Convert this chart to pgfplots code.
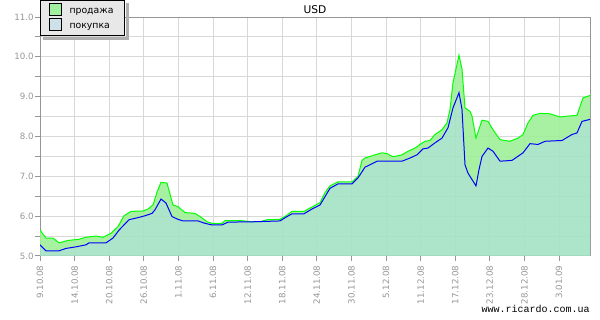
\documentclass[border=0pt]{standalone}
\usepackage{fontspec}
\setmainfont{DejaVu Sans}
\setmonofont{Liberation Mono}
\usepackage{pgfplots}
\pgfplotsset{compat=1.18}
\usepgfplotslibrary{fillbetween}
\definecolor{sellline}{RGB}{0,255,0}
\definecolor{buyline}{RGB}{0,0,255}
\definecolor{sellfill}{RGB}{160,240,152}
\definecolor{buyfill}{RGB}{164,226,196}
\definecolor{legsell}{RGB}{160,240,160}
\definecolor{legbuy}{RGB}{206,224,232}
\definecolor{gridc}{RGB}{216,216,216}
\definecolor{tickc}{RGB}{150,150,150}
\definecolor{legbg}{RGB}{232,232,232}
\definecolor{shadowc}{RGB}{176,176,176}
\begin{document}
\begin{tikzpicture}
\begin{axis}[
  at={(30pt,48pt)}, anchor=south west,
  scale only axis, width=412.5pt, height=179.25pt,
  xmin=40, xmax=590, ymin=5, ymax=11,
  xtick={40,74.6,109.2,143.8,178.4,213,247.6,282.2,316.8,351.4,386,420.6,455.2,489.8,524.4,559},
  xticklabels={9.10.08,14.10.08,20.10.08,26.10.08,1.11.08,6.11.08,12.11.08,18.11.08,24.11.08,30.11.08,5.12.08,11.12.08,17.12.08,23.12.08,28.12.08,3.01.09},
  ytick={5,6,7,8,9,10,11},
  minor ytick={5.5,6.5,7.5,8.5,9.5,10.5},
  yticklabel={\pgfmathprintnumber[fixed,fixed zerofill,precision=1]{\tick}},
  /pgf/number format/assume math mode=true,
  grid=both,
  major grid style={gridc, line width=0.75pt},
  minor grid style={gridc, line width=0.75pt},
  axis line style={tickc, line width=0.75pt},
  tick style={tickc, line width=0.75pt},
  tick align=outside, tick pos=left,
  major tick length=3.5pt, minor tick length=3.5pt,
  ticklabel style={font=\fontsize{6.5}{7}\selectfont, text=tickc},
  xticklabel style={rotate=90, anchor=east, inner sep=1pt},
  xticklabel shift=2.5pt,
  yticklabel style={inner sep=1pt},
  title={USD},
  title style={at={(axis description cs:0.5,1)}, anchor=base, yshift=-3.5pt, font=\fontsize{8}{9}\selectfont},
  legend style={name=leg, at={(axis description cs:0,1.0711)}, anchor=north west,
    fill=legbg, draw=black, line width=0.75pt,
    font=\fontsize{7}{9.5}\selectfont, inner xsep=6.5pt, inner ysep=2pt,
    row sep=0.5pt,
    /tikz/every odd column/.append style={column sep=3.5pt}},
  legend cell align=left,
]
\addlegendimage{legend image code/.code={\draw[fill=legsell,draw=black,line width=0.75pt] (0pt,-3.2pt) rectangle (9pt,5.8pt);}}
\addlegendentry{продажа}
\addlegendimage{legend image code/.code={\draw[fill=legbuy,draw=black,line width=0.75pt] (0pt,-3.2pt) rectangle (9pt,5.8pt);}}
\addlegendentry{покупка}

\addplot[draw=none, name path=base, forget plot] coordinates {(40,5) (590,5)};

\addplot[sellline, line width=0.75pt, name path=sell, forget plot] coordinates {
(40,5.65) (46,5.45) (53,5.45) (59,5.33) (68,5.39) (79,5.42) (86,5.47) (96,5.50)
(103,5.47) (111,5.57) (118,5.74) (124,6.01) (131,6.12) (143,6.13) (148,6.18) (153,6.28)
(157,6.60) (161,6.85) (167,6.83) (173,6.28) (178,6.24) (185,6.09) (195,6.07) (200,5.99)
(207,5.86) (212,5.82) (222,5.82) (225,5.89) (240,5.89) (252,5.86) (260,5.86) (267,5.91)
(280,5.92) (285,5.99) (292,6.12) (304,6.12) (312,6.23) (320,6.34) (325,6.59) (330,6.76)
(338,6.86) (352,6.86) (358,7.00) (362,7.40) (365,7.46) (375,7.54) (382,7.59) (387,7.57)
(393,7.49) (402,7.54) (408,7.63) (415,7.71) (420,7.80) (425,7.88) (430,7.90) (435,8.05)
(442,8.17) (447,8.34) (450,8.68) (453,9.35) (457,9.81) (459,10.04) (462,9.69) (465,8.72)
(470,8.63) (472,8.51) (476,7.96) (482,8.41) (488,8.38) (493,8.17) (500,7.92) (510,7.88)
(518,7.96) (523,8.05) (528,8.34) (533,8.53) (540,8.58) (550,8.57) (560,8.49) (567,8.51)
(577,8.53) (583,8.97) (590,9.03)
};

\addplot[buyline, line width=0.75pt, name path=buy, forget plot] coordinates {
(40,5.28) (46,5.13) (59,5.13) (66,5.19) (76,5.23) (86,5.28) (89,5.33) (106,5.33)
(113,5.45) (119,5.65) (129,5.91) (139,5.97) (145,6.01) (152,6.07) (155,6.16) (161,6.43)
(166,6.33) (172,5.99) (178,5.92) (183,5.88) (198,5.88) (205,5.82) (212,5.78) (222,5.78)
(228,5.85) (255,5.86) (280,5.88) (285,5.96) (292,6.06) (304,6.06) (312,6.18) (320,6.28)
(325,6.49) (330,6.70) (338,6.81) (352,6.81) (358,6.96) (365,7.23) (370,7.29) (377,7.38)
(402,7.38) (410,7.46) (417,7.54) (423,7.69) (428,7.71) (435,7.84) (442,7.96) (448,8.22)
(453,8.72) (459,9.10) (462,8.68) (465,7.29) (468,7.08) (476,6.76) (479,7.17) (482,7.50)
(488,7.71) (493,7.63) (500,7.38) (512,7.40) (523,7.59) (530,7.82) (538,7.80) (545,7.88)
(562,7.90) (572,8.05) (577,8.09) (582,8.38) (590,8.43)
};

\addplot[sellfill, fill opacity=0.9, forget plot] fill between[of=sell and buy];
\addplot[buyfill, fill opacity=0.9, forget plot] fill between[of=buy and base];
\end{axis}
\fill[shadowc] ([shift={(0.4pt,-2.6pt)}]leg.north east) rectangle ([shift={(2.6pt,-2.6pt)}]leg.south east);
\fill[shadowc] ([shift={(2.6pt,-0.4pt)}]leg.south west) rectangle ([shift={(0.4pt,-2.6pt)}]leg.south east);
\node[anchor=base east, font=\ttfamily\fontsize{7.5}{8}\selectfont, inner sep=0pt] at (442.5pt,5.5pt) {www.ricardo.com.ua};
\pgfresetboundingbox
\useasboundingbox (0,0) rectangle (450pt,240pt);
\end{tikzpicture}
\end{document}
